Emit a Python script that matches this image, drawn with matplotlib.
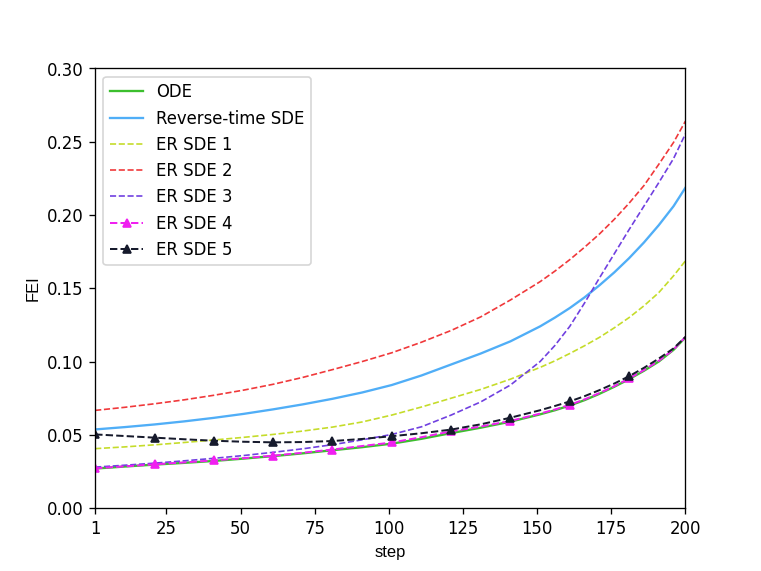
import numpy as np
import matplotlib
matplotlib.use("Agg")
from matplotlib import pyplot as plt

steps = [1, 11, 21, 31, 41, 51, 61, 71, 81, 91, 101, 111, 121, 131, 141,
         151, 156, 161, 166, 171, 176, 181, 186, 191, 196, 200]

ode = [0.0270, 0.0284, 0.0297, 0.0309, 0.0322, 0.0338, 0.0355, 0.0374, 0.0395, 0.0416, 0.0440,
       0.0473, 0.0512, 0.0549, 0.0590,
       0.0640, 0.0668, 0.0700, 0.0737, 0.0780, 0.0828, 0.0880, 0.0937, 0.1000, 0.1080, 0.1165]
rev_sde = [0.0537, 0.0553, 0.0571, 0.0592, 0.0616, 0.0643, 0.0674, 0.0708, 0.0746, 0.0789, 0.0840,
           0.0905, 0.0980, 0.1055, 0.1138,
           0.1240, 0.1300, 0.1365, 0.1438, 0.1520, 0.1608, 0.1705, 0.1812, 0.1930, 0.2060, 0.2186]
er1 = [0.0406, 0.0418, 0.0432, 0.0448, 0.0465, 0.0483, 0.0503, 0.0526, 0.0553, 0.0588, 0.0635,
       0.0690, 0.0750, 0.0810, 0.0880,
       0.0960, 0.1005, 0.1055, 0.1108, 0.1165, 0.1230, 0.1300, 0.1380, 0.1470, 0.1585, 0.1687]
er2 = [0.0667, 0.0688, 0.0712, 0.0739, 0.0770, 0.0805, 0.0845, 0.0892, 0.0945, 0.1000, 0.1060,
       0.1132, 0.1212, 0.1305, 0.1420,
       0.1545, 0.1617, 0.1695, 0.1780, 0.1870, 0.1970, 0.2080, 0.2200, 0.2345, 0.2495, 0.2640]
er3 = [0.0280, 0.0293, 0.0307, 0.0323, 0.0340, 0.0359, 0.0381, 0.0405, 0.0433, 0.0466, 0.0503,
       0.0555, 0.0635, 0.0725, 0.0840,
       0.1000, 0.1110, 0.1240, 0.1400, 0.1570, 0.1735, 0.1900, 0.2060, 0.2220, 0.2385, 0.2553]
er4 = [0.0272, 0.0285, 0.0299, 0.0312, 0.0326, 0.0341, 0.0358, 0.0378, 0.0400, 0.0424, 0.0448,
       0.0484, 0.0524, 0.0557, 0.0595,
       0.0645, 0.0673, 0.0705, 0.0742, 0.0785, 0.0832, 0.0885, 0.0942, 0.1005, 0.1082, 0.1168]
er5 = [0.0503, 0.0492, 0.0481, 0.0470, 0.0460, 0.0453, 0.0449, 0.0451, 0.0458, 0.0472, 0.0491,
       0.0511, 0.0536, 0.0572, 0.0617,
       0.0668, 0.0697, 0.0728, 0.0764, 0.0805, 0.0850, 0.0900, 0.0957, 0.1020, 0.1090, 0.1168]

marker_steps = [1, 21, 41, 61, 81, 101, 121, 141, 161, 181]
xtick_vals = [1, 25, 50, 75, 100, 125, 150, 175, 200]

marks = [steps.index(s) for s in marker_steps]

fig = plt.figure(figsize=(6.4, 4.8), dpi=119)
ax = fig.add_subplot(111)

ax.plot(steps, ode, color='#3cbf2e', lw=1.4, label='ODE')
ax.plot(steps, rev_sde, color='#50aef7', lw=1.4, label='Reverse-time SDE')
ax.plot(steps, er1, color='#c5dc2a', lw=1.0, ls='--', label='ER SDE 1')
ax.plot(steps, er2, color='#f0383a', lw=1.0, ls='--', label='ER SDE 2')
ax.plot(steps, er3, color='#7040e0', lw=1.0, ls='--', label='ER SDE 3')
ax.plot(steps, er4, color='#f020f0', lw=1.2, ls='--', marker='^', markersize=5,
        markevery=marks, label='ER SDE 4')
ax.plot(steps, er5, color='#161a2c', lw=1.2, ls='--', marker='^', markersize=5,
        markevery=marks, label='ER SDE 5')

ax.set_xlim(1, 200)
ax.set_ylim(0, 0.30)
ax.set_xticks(xtick_vals)
yt = np.arange(0, 0.301, 0.05)
ax.set_yticks(yt)
ax.set_yticklabels(['%.2f' % v for v in yt])

ax.set_xlabel('step', family='Liberation Sans', fontsize=10)
ax.set_ylabel('FEI', family='Liberation Sans', fontsize=10)
ax.legend(loc='upper left')

fig.savefig('out.png', dpi=119)
